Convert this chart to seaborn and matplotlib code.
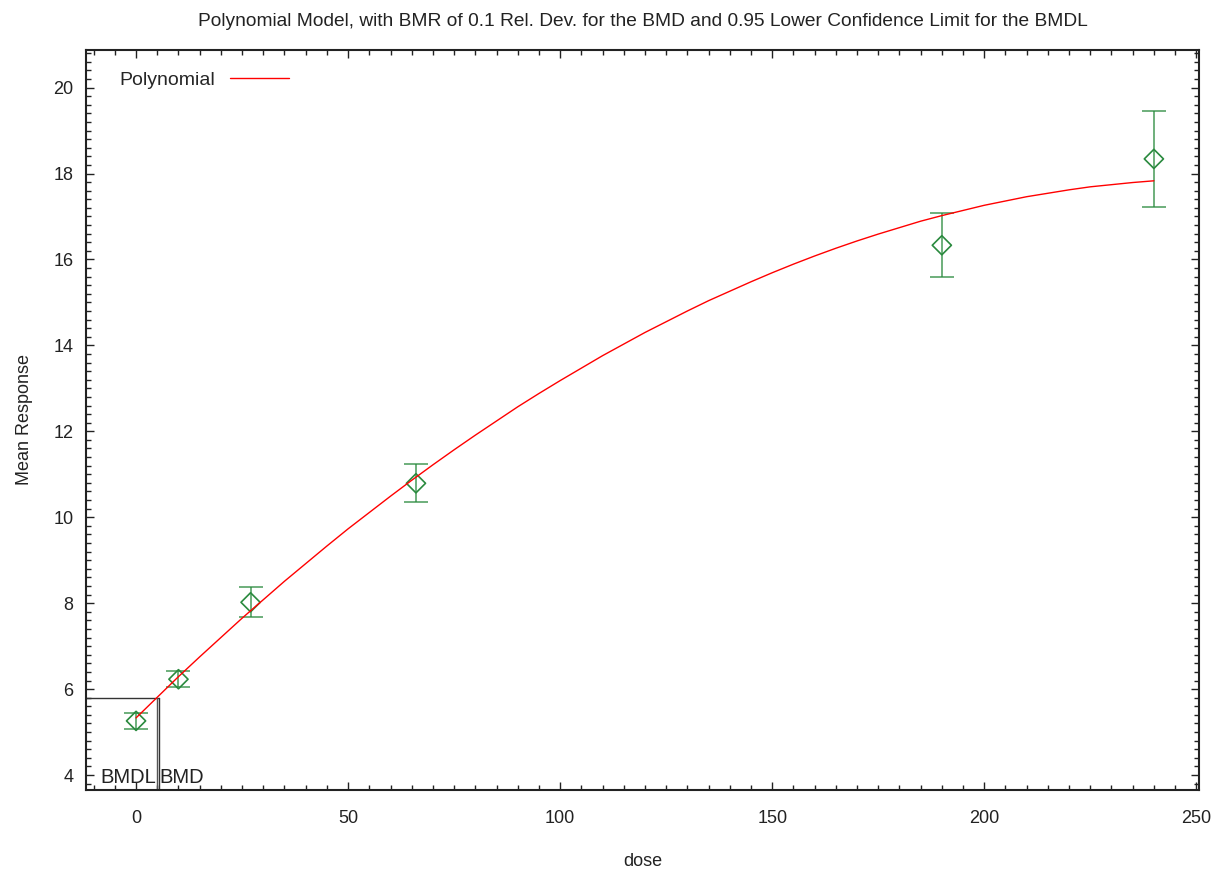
import numpy as np
import pandas as pd
import matplotlib
matplotlib.use("Agg")
import matplotlib.pyplot as plt
import seaborn as sns
from matplotlib.ticker import MultipleLocator

doses = [0, 10, 27, 66, 190, 240]
means = [5.26, 6.23, 8.02, 10.79, 16.33, 18.34]
lower = [5.06, 6.06, 7.67, 10.36, 15.58, 17.21]
upper = [5.45, 6.41, 8.37, 11.24, 17.07, 19.45]

# Fitted polynomial curve, read at every 5 dose units
curve_dose = [0, 5, 10, 15, 20, 25, 30, 35, 40, 45, 50, 55, 60, 65, 70, 75,
              80, 85, 90, 95, 100, 105, 110, 115, 120, 125, 130, 135, 140,
              145, 150, 155, 160, 165, 170, 175, 180, 185, 190, 195, 200,
              205, 210, 215, 220, 225, 230, 235, 240]
curve_resp = [5.33, 5.81, 6.29, 6.75, 7.20, 7.65, 8.08, 8.51, 8.92, 9.33,
              9.73, 10.11, 10.49, 10.86, 11.22, 11.57, 11.91, 12.24, 12.57,
              12.88, 13.18, 13.47, 13.76, 14.03, 14.30, 14.55, 14.80, 15.04,
              15.26, 15.48, 15.69, 15.89, 16.08, 16.26, 16.43, 16.59, 16.74,
              16.89, 17.02, 17.14, 17.26, 17.36, 17.46, 17.54, 17.62, 17.69,
              17.74, 17.79, 17.83]

bmdl = 4.85
bmd = 5.3
bmr_level = 5.8

sns.set_theme(style="ticks")
plt.rcParams["font.family"] = ["Liberation Sans", "DejaVu Sans"]

df_obs = pd.DataFrame({"dose": doses, "mean": means, "lo": lower, "hi": upper})
df_fit = pd.DataFrame({"dose": curve_dose, "resp": curve_resp})

fig, ax = plt.subplots(figsize=(12.2, 8.73), dpi=100)
fig.subplots_adjust(left=0.0705, right=0.983, top=0.943, bottom=0.095)

green = "#2a8a3e"
ax.errorbar(df_obs["dose"], df_obs["mean"],
            yerr=[df_obs["mean"] - df_obs["lo"], df_obs["hi"] - df_obs["mean"]],
            fmt="none", ecolor=green, elinewidth=1.2, capsize=8.5, capthick=1.2,
            alpha=0.8, zorder=2)
sns.scatterplot(data=df_obs, x="dose", y="mean", marker="D", s=95,
                facecolor="none", edgecolor=green, linewidth=1.2, ax=ax, zorder=3)
sns.lineplot(data=df_fit, x="dose", y="resp", color="red", linewidth=1.0,
             label="Polynomial", ax=ax, zorder=4)

# BMD / BMDL markers
ax.plot([-20, bmd], [bmr_level, bmr_level], color="#333333", linewidth=1.0, zorder=1)
ax.plot([bmd, bmd], [0, bmr_level], color="#333333", linewidth=1.0, zorder=1)
ax.plot([bmdl, bmdl], [0, bmr_level], color="#555555", linewidth=1.0, zorder=1)
ax.text(bmdl - 0.2, 3.82, "BMDL", ha="right", va="baseline", fontsize=14.5, color="#222222")
ax.text(bmd + 0.2, 3.82, "BMD", ha="left", va="baseline", fontsize=14.5, color="#222222")

ax.set_xlim(-11.8, 250.7)
ax.set_ylim(3.65, 20.88)
ax.xaxis.set_major_locator(MultipleLocator(50))
ax.xaxis.set_minor_locator(MultipleLocator(5))
ax.yaxis.set_major_locator(MultipleLocator(2))
ax.yaxis.set_minor_locator(MultipleLocator(0.2))
ax.tick_params(which="both", direction="in", top=True, right=True, color="#222222")
ax.tick_params(which="major", length=6, width=1.0, labelsize=13, colors="#222222")
ax.tick_params(axis="x", which="major", pad=14)
ax.tick_params(axis="y", which="major", pad=9)
ax.tick_params(which="minor", length=3.5, width=1.0)
for sp in ax.spines.values():
    sp.set_linewidth(1.5)
    sp.set_color("#222222")

ax.set_xlabel("dose", fontsize=13, labelpad=19, color="#222222")
ax.set_ylabel("Mean Response", fontsize=13, labelpad=15, color="#222222")
ax.set_title("Polynomial Model, with BMR of 0.1 Rel. Dev. for the BMD and 0.95 Lower Confidence Limit for the BMDL",
             fontsize=13.8, pad=17, color="#222222")

ax.legend(loc="upper left", bbox_to_anchor=(0.014, 0.995), frameon=False,
          markerfirst=False, handlelength=3.0, fontsize=14)

plt.savefig("out.png", dpi=100)
plt.close()
